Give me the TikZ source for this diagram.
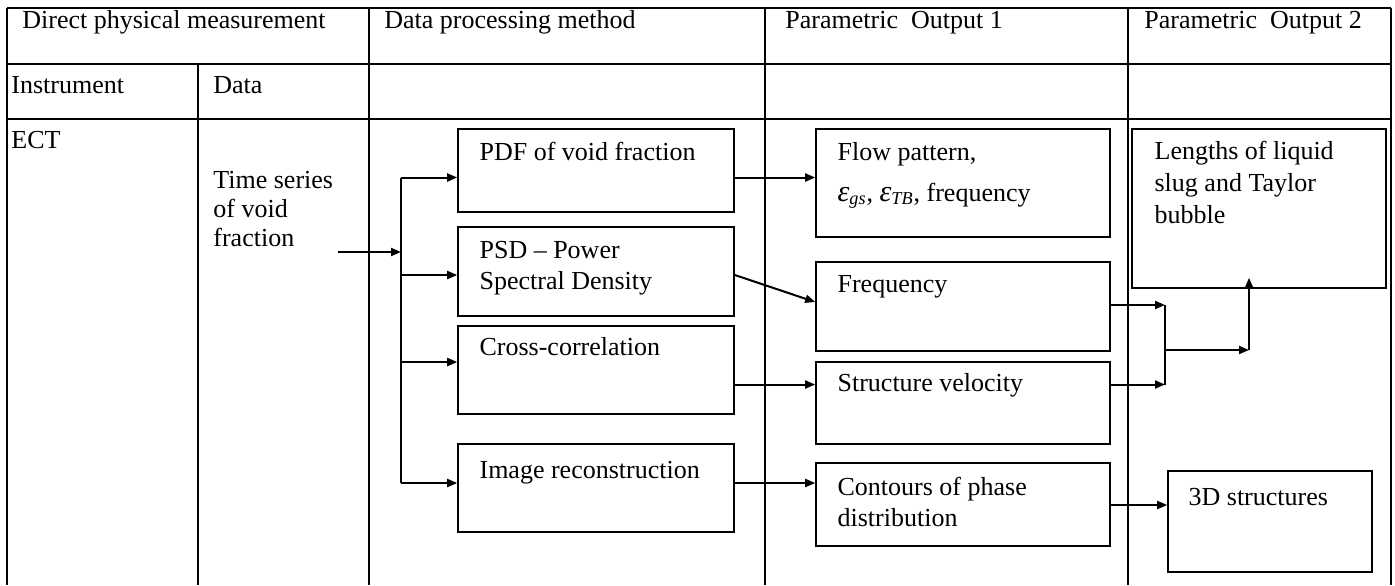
\documentclass[tikz,border=0pt]{standalone}
\usepackage{fontspec}
\setmainfont{Liberation Serif}
\usetikzlibrary{arrows.meta,fit,calc}
\newcommand\mylines[1]{\begin{tabular}[t]{@{}l@{}}#1\end{tabular}}
\newcommand\epsub[1]{{\itshape\fontsize{15pt}{15pt}\selectfont ε}\textsubscript{\itshape #1}}
\begin{document}
\begin{tikzpicture}[x=0.5pt,y=-0.5pt,
  tbl/.style={line width=1pt},
  box/.style={draw, line width=0.8pt, inner sep=0pt},
  arr/.style={line width=1pt, -{Triangle[length=5pt,width=4pt]}},
  ln/.style={line width=1pt},
  txt/.style={anchor=base west, inner sep=0pt, font=\fontsize{13pt}{15.5pt}\selectfont},
]
\useasboundingbox (0,0) rectangle (1395,585);
% table
\draw[tbl] (7,8) -- (1391,8);
\draw[tbl] (7,64) -- (1391,64);
\draw[tbl] (7,119) -- (1391,119);
\foreach \x in {7,369,765,1128,1391} \draw[tbl] (\x,8) -- (\x,585);
\draw[tbl] (198,64) -- (198,585);
% table texts
\node[txt] (h1) at (22,28) {Direct physical measurement};
\node[txt] (h2) at (384,28) {Data processing method};
\node[txt] (h3) at (785,28) {Parametric\hspace{0.25em} Output 1};
\node[txt] (h4) at (1144,28) {Parametric\hspace{0.25em} Output 2};
\node[txt] (s1) at (11,93) {Instrument};
\node[txt] (s2) at (213,93) {Data};
\node[txt] (ect) at (11,148) {ECT};
\node[txt] (ts) at (213,188) {\fontsize{13pt}{14.5pt}\selectfont\mylines{Time series\\of void\\fraction}};
% processing boxes
\node[box, fit={(458,129) (734,212)}] (pdf) {};
\node[box, fit={(458,227) (734,316)}] (psd) {};
\node[box, fit={(458,326) (734,414)}] (cross) {};
\node[box, fit={(458,444) (734,532)}] (img) {};
% output 1 boxes
\node[box, fit={(816,129) (1110,237)}] (flow) {};
\node[box, fit={(816,262) (1110,351)}] (freq) {};
\node[box, fit={(816,362) (1110,444)}] (struct) {};
\node[box, fit={(816,463) (1110,546)}] (cont) {};
% output 2 boxes
\node[box, fit={(1132,129) (1386,288)}] (len) {};
\node[box, fit={(1168,471) (1372,572)}] (d3) {};
% box texts
\node[txt] (tpdf) at ($(pdf.north west)+(22,32)$) {PDF of void fraction};
\node[txt] (tpsd) at ($(psd.north west)+(22,32)$) {\mylines{PSD -- Power\\Spectral Density}};
\node[txt] (tcross) at ($(cross.north west)+(22,30)$) {Cross-correlation};
\node[txt] (timg) at ($(img.north west)+(22,35)$) {Image reconstruction};
\node[txt] (tflow) at ($(flow.north west)+(22,32)$) {\mylines{Flow pattern,\\[5pt] \epsub{gs}, \epsub{TB}, frequency}};
\node[txt] (tfreq) at ($(freq.north west)+(22,31)$) {Frequency};
\node[txt] (tstruct) at ($(struct.north west)+(22,30)$) {Structure velocity};
\node[txt] (tcont) at ($(cont.north west)+(22,33)$) {\mylines{Contours of phase\\distribution}};
\node[txt] (tlen) at ($(len.north west)+(23,31)$) {\mylines{Lengths of liquid\\[0.5pt] slug and Taylor\\[0.5pt] bubble}};
\node[txt] (td3) at ($(d3.north west)+(21,35)$) {3D structures};
% connector coordinates
\coordinate (in) at (338,252);
\coordinate (tj) at (401,252);
\coordinate (t1) at (401,177.5);
\coordinate (t2) at (401,275);
\coordinate (t3) at (401,362);
\coordinate (t4) at (401,483);
\coordinate (l302) at (0,302);
\coordinate (l384) at (0,384.5);
\coordinate (l505) at (0,505);
\coordinate (m1) at (1165,305);
\coordinate (m2) at (1165,384.5);
\coordinate (m3) at (1165,350);
\coordinate (m4) at (1249,350);
% connectors
\draw[arr] (in) -- (tj);
\draw[ln] (t1) -- (t4);
\draw[arr] (t1) -- (pdf.west |- t1);
\draw[arr] (t2) -- (psd.west |- t2);
\draw[arr] (t3) -- (cross.west |- t3);
\draw[arr] (t4) -- (img.west |- t4);
\draw[arr] (pdf.east |- t1) -- (flow.west |- t1);
\draw[arr] (psd.east |- t2) -- (freq.west |- l302);
\draw[arr] (cross.east |- l384) -- (struct.west |- l384);
\draw[arr] (img.east |- t4) -- (cont.west |- t4);
\draw[arr] (freq.east |- m1) -- (m1);
\draw[arr] (struct.east |- m2) -- (m2);
\draw[ln] (m1) -- (m2);
\draw[arr] (m3) -- (m4);
\draw[arr, shorten >=-5.5pt] (m4) -- (m4 |- len.south);
\draw[arr] (cont.east |- l505) -- (d3.west |- l505);
\end{tikzpicture}
\end{document}
